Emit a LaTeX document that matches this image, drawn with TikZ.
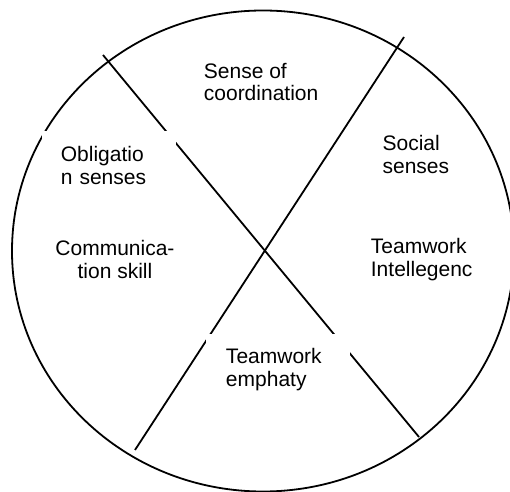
\documentclass[tikz,border=0pt]{standalone}
\usepackage{fontspec}
\setmainfont{Liberation Sans}
\begin{document}
\begin{tikzpicture}[x=0.5pt, y=-0.5pt, line width=0.9pt,
  sector/.style={font=\fontsize{10.5}{11.4}\selectfont, align=left, inner sep=0pt, anchor=north west}]
\clip (0,0) rectangle (510,492);
% outer ring and the two crossing cuts
\draw (263,251) ellipse [x radius=251, y radius=240.5];
\coordinate (a1) at (103,55);
\coordinate (a2) at (419,437);
\coordinate (b1) at (404,37);
\coordinate (b2) at (135,450);
\draw (a1) -- (a2);
\draw (b1) -- (b2);
% sector labels
\node[sector] (coord) at (203,62) {Sense of\\coordination};
\node[sector] (social) at (381.7,134.7) {Social\\senses};
\node[sector, fill=white, inner xsep=9.5pt, inner ysep=7.7pt, text width=48pt] (oblig) at (41,130) {Obligatio\\n senses};
\node[sector, anchor=north, align=center] (comm) at (115,239.7) {Communica-\\tion skill};
\node[sector] (intel) at (370,237.7) {Teamwork\\Intellegenc};
\node[sector, fill=white, inner xsep=10.2pt, inner ysep=7.35pt, text width=52pt] (empathy) at (204.7,333) {Teamwork\\emphaty};
\end{tikzpicture}
\end{document}
